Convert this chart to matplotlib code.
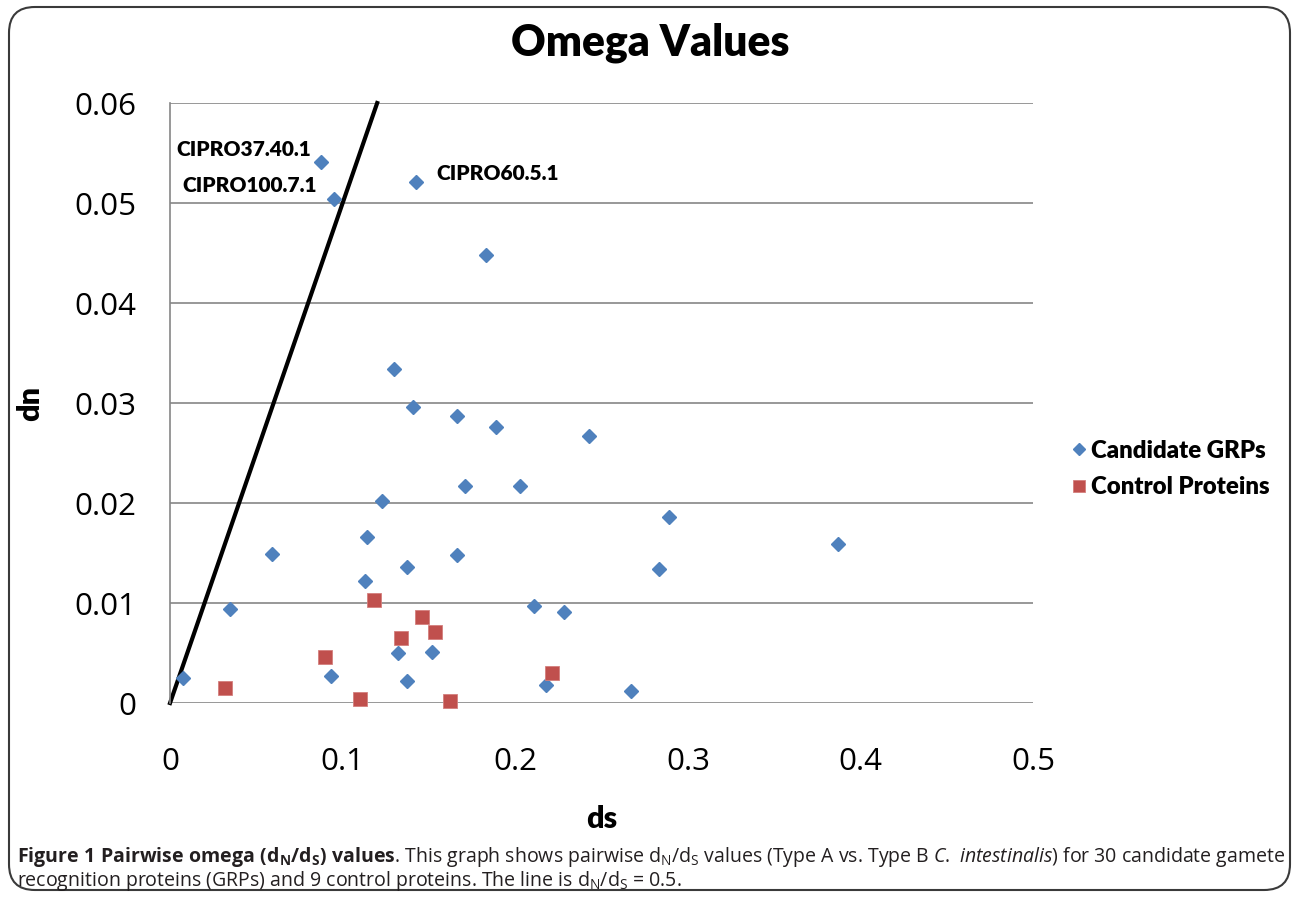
import matplotlib
matplotlib.use("Agg")
import matplotlib.pyplot as plt
from matplotlib.patches import FancyBboxPatch

plt.rcParams['font.family'] = ['Lato', 'DejaVu Sans']
plt.rcParams['mathtext.fontset'] = 'custom'
plt.rcParams['mathtext.rm'] = 'Open Sans'
plt.rcParams['mathtext.it'] = 'Open Sans:italic'
plt.rcParams['mathtext.bf'] = 'Open Sans:bold'

# candidate GRPs (ds, dn)
grp_ds = [0.0875, 0.095, 0.1425, 0.183, 0.130, 0.141, 0.166, 0.189, 0.243, 0.171,
          0.203, 0.123, 0.289, 0.387, 0.059, 0.114, 0.166, 0.137, 0.283, 0.113,
          0.035, 0.211, 0.228, 0.132, 0.152, 0.093, 0.137, 0.218, 0.267, 0.0075]
grp_dn = [0.0541, 0.0504, 0.0521, 0.0448, 0.0334, 0.0296, 0.0287, 0.0276, 0.0267, 0.0217,
          0.0217, 0.0202, 0.0186, 0.0159, 0.0149, 0.0166, 0.0148, 0.0136, 0.0134, 0.0122,
          0.0094, 0.0097, 0.0091, 0.0050, 0.0051, 0.0027, 0.0022, 0.0018, 0.0012, 0.0025]

# control proteins
ctl_ds = [0.032, 0.090, 0.118, 0.134, 0.146, 0.1535, 0.110, 0.162, 0.221]
ctl_dn = [0.0015, 0.0046, 0.0103, 0.0065, 0.0086, 0.0071, 0.0004, 0.0002, 0.0030]

# omega = 0.5 line
line_ds = [0.0, 0.12]
line_dn = [0.0, 0.06]

labels = ["CIPRO37.40.1", "CIPRO100.7.1", "CIPRO60.5.1"]

fig = plt.figure(figsize=(12.93, 8.99), dpi=100)
ax = fig.add_axes([0.1315, 0.218, 0.6675, 0.6674])

ax.plot(line_ds, line_dn, color='black', lw=3, clip_on=False, zorder=2)
ax.plot(grp_ds, grp_dn, ls='none', marker='D', ms=7.6, color='#4F81BD',
        label='Candidate GRPs', clip_on=False, zorder=3)
ax.plot(ctl_ds, ctl_dn, ls='none', marker='s', ms=10.5, color='#C0504D',
        mec='#D47F7D', mew=0.6, label='Control Proteins', clip_on=False, zorder=3)

ax.set_xlim(0, 0.5)
ax.set_ylim(0, 0.06)
ax.set_xticks([0, 0.1, 0.2, 0.3, 0.4, 0.5])
ax.set_xticklabels(['0', '0.1', '0.2', '0.3', '0.4', '0.5'])
ax.set_yticks([0, 0.01, 0.02, 0.03, 0.04, 0.05, 0.06])
ax.set_yticklabels(['0', '0.01', '0.02', '0.03', '0.04', '0.05', '0.06'])
ax.tick_params(length=0, labelsize=22.5)
ax.tick_params(axis='y', pad=24)
ax.tick_params(axis='x', pad=32)
for lab in ax.get_xticklabels() + ax.get_yticklabels():
    lab.set_fontfamily('Open Sans')
ax.grid(axis='y', color='#868686', lw=1.2)
ax.set_axisbelow(True)
for s in ['top', 'right', 'bottom']:
    ax.spines[s].set_visible(False)
ax.spines['left'].set_color('#868686')
ax.spines['left'].set_linewidth(1.2)

ax.set_xlabel('ds', fontsize=22, fontweight='heavy', labelpad=20)
ax.set_ylabel('dn', fontsize=22, fontweight='heavy', labelpad=22)
fig.text(0.503, 0.953, 'Omega Values', ha='center', va='center',
         fontsize=30.7, fontweight='heavy')

ax.annotate(labels[0], (grp_ds[0], grp_dn[0]), xytext=(-7, 9), textcoords='offset points',
            ha='right', va='center', fontsize=15, fontweight='heavy')
ax.annotate(labels[1], (grp_ds[1], grp_dn[1]), xytext=(-12, 10), textcoords='offset points',
            ha='right', va='center', fontsize=15, fontweight='heavy')
ax.annotate(labels[2], (grp_ds[2], grp_dn[2]), xytext=(15, 6), textcoords='offset points',
            ha='left', va='center', fontsize=15, fontweight='heavy')

leg = ax.legend(loc='center left', bbox_to_anchor=(1.02, 0.39), frameon=False,
                prop={'size': 17.3, 'weight': 'heavy'}, handlelength=0.6,
                handletextpad=0.2, labelspacing=0.62, markerscale=0.8)

frame = FancyBboxPatch((9 / 1293, 1 - 890 / 899), 1281 / 1293, 883 / 899,
                       boxstyle='round,pad=0,rounding_size=0.02',
                       transform=fig.transFigure, fill=False,
                       ec='#3a3a3a', lw=1.5, mutation_aspect=1293 / 899)
fig.patches.append(frame)

cap1 = (r"$\mathbf{Figure\ 1\ Pairwise\ omega\ (d_{N}/d_{S})\ values}$. This graph shows pairwise "
        r"d$_\mathrm{N}$/d$_\mathrm{S}$ values (Type A vs. Type B $\mathit{C.\ intestinalis}$) "
        r"for 30 candidate gamete")
cap2 = r"recognition proteins (GRPs) and 9 control proteins. The line is d$_\mathrm{N}$/d$_\mathrm{S}$ = 0.5."
fig.text(17 / 1293, 1 - 857 / 899, cap1, ha='left', va='center', fontsize=14.05,
         family='Open Sans', color='#231f20')
fig.text(17 / 1293, 1 - 881 / 899, cap2, ha='left', va='center', fontsize=14.05,
         family='Open Sans', color='#231f20')

fig.savefig('out.png', dpi=100)
